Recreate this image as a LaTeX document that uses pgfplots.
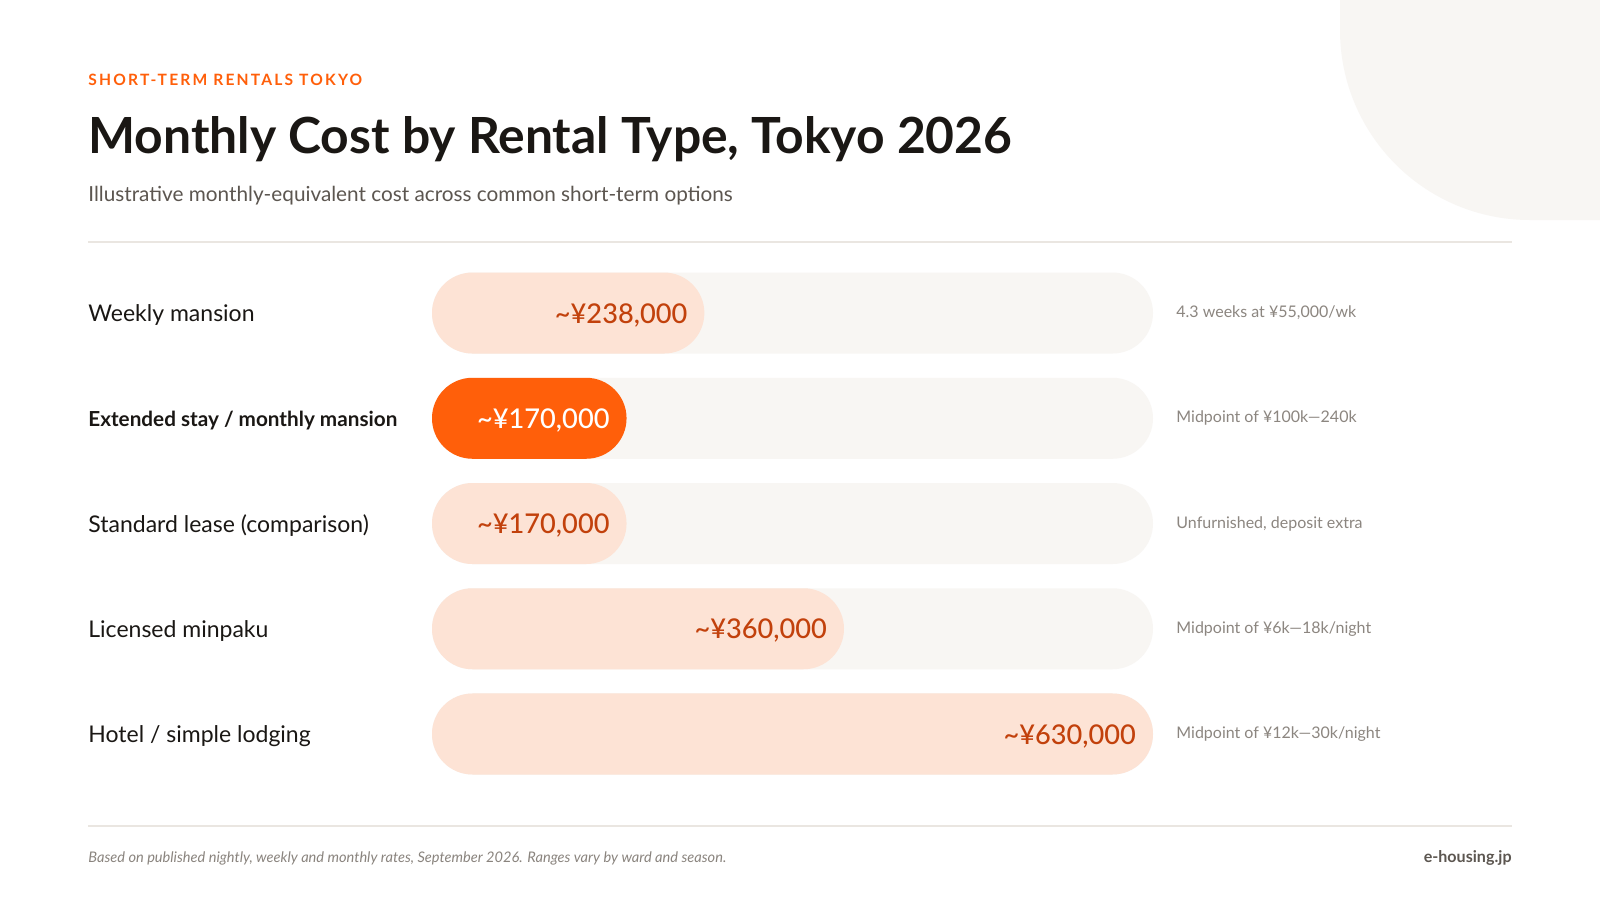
\documentclass[border=0pt]{standalone}
\usepackage{fontspec}
\setmainfont{Lato}
\newfontfamily\eyebrowfont[LetterSpace=14]{Lato}
\newfontfamily\medfont{Lato Medium}
\usepackage{pgfplots}
\pgfplotsset{compat=1.18}
\definecolor{accent}{HTML}{FF5F0A}
\definecolor{peach}{HTML}{FDE3D5}
\definecolor{track}{HTML}{F8F6F3}
\definecolor{valtext}{HTML}{C2410C}
\definecolor{titlecol}{HTML}{1A1714}
\definecolor{subcol}{HTML}{5C5650}
\definecolor{notecol}{HTML}{8C8680}
\definecolor{rulecol}{HTML}{EAE6E1}
\definecolor{footcol}{HTML}{8A847E}
\begin{document}
\begin{tikzpicture}[x=0.5pt,y=-0.5pt]
\useasboundingbox (0,0) rectangle (1600,900);
\fill[white] (0,0) rectangle (1600,900);
\begin{scope}
\clip (0,0) rectangle (1600,900);
\fill[track, rounded corners=95pt] (1340,-400) rectangle (1900,220);
\end{scope}
\node[anchor=base west, inner sep=0, text=accent, font=\eyebrowfont\bfseries\fontsize{7.8}{9}\selectfont] at (88,85.7) {SHORT-TERM RENTALS TOKYO};
\node[anchor=base west, inner sep=0, text=titlecol, font=\bfseries\fontsize{24.9}{30}\selectfont] at (88,153) {Monthly Cost by Rental Type, Tokyo 2026};
\node[anchor=base west, inner sep=0, text=subcol, font=\fontsize{10.37}{12}\selectfont] at (88,201) {Illustrative monthly-equivalent cost across common short-term options};
\draw[rulecol, line width=0.6pt] (88,242) -- (1512,242);
\draw[rulecol, line width=0.6pt] (88,826) -- (1512,826);
\node[anchor=base west, inner sep=0, text=footcol, font=\itshape\fontsize{7.3}{9}\selectfont] at (88,862) {Based on published nightly, weekly and monthly rates, September 2026. Ranges vary by ward and season.};
\node[anchor=base east, inner sep=0, text=subcol, font=\bfseries\fontsize{8.05}{10}\selectfont] at (1512,862) {e-housing.jp};
\begin{axis}[
  at={(216pt,-393.3pt)}, anchor=south west,
  width=360.5pt, height=263.1pt, scale only axis,
  xmin=0, xmax=630000, ymin=-0.5, ymax=4.5, y dir=reverse,
  xbar, bar width=40.5pt, bar shift=0pt,
  axis line style={draw=none}, tick style={draw=none}, major tick length=0pt,
  xtick=\empty, ytick={0,1,2,3,4},
  yticklabels={Weekly mansion,{\fontsize{10.35}{13}\selectfont\bfseries Extended stay / monthly mansion},Standard lease (comparison),Licensed minpaku,Hotel / simple lodging},
  yticklabel style={anchor=west, inner sep=0pt, xshift=-172pt, yshift=-1pt, text=titlecol, font=\fontsize{11.5}{13}\selectfont},
  clip=false,
]
\addplot[fill=track, draw=none, rounded corners=20.25pt, bar shift=0pt]
  coordinates {(630000,0) (630000,1) (630000,2) (630000,3) (630000,4)};
\addplot[fill=peach, draw=none, rounded corners=20.25pt, bar shift=0pt,
  point meta=x,
  nodes near coords={\textasciitilde¥\pgfmathprintnumber[fixed,precision=0,1000 sep={,},assume math mode=true]{\pgfplotspointmeta}},
  nodes near coords style={anchor=east, inner sep=0pt, xshift=-8.3pt, yshift=-1pt, text=valtext, font=\medfont\fontsize{13.6}{16}\selectfont}]
  coordinates {(238000,0) (170000,2) (360000,3) (630000,4)};
\addplot[fill=accent, draw=none, rounded corners=20.25pt, bar shift=0pt,
  point meta=x,
  nodes near coords={\textasciitilde¥\pgfmathprintnumber[fixed,precision=0,1000 sep={,},assume math mode=true]{\pgfplotspointmeta}},
  nodes near coords style={anchor=east, inner sep=0pt, xshift=-8.3pt, yshift=-1pt, text=white, font=\medfont\fontsize{13.6}{16}\selectfont}]
  coordinates {(170000,1)};
\node[anchor=west, inner sep=0, text=notecol, font=\fontsize{8}{10}\selectfont, xshift=11.5pt] at (axis cs:630000,0) {4.3 weeks at ¥55,000/wk};
\node[anchor=west, inner sep=0, text=notecol, font=\fontsize{8}{10}\selectfont, xshift=11.5pt] at (axis cs:630000,1) {Midpoint of ¥100k—240k};
\node[anchor=west, inner sep=0, text=notecol, font=\fontsize{8}{10}\selectfont, xshift=11.5pt] at (axis cs:630000,2) {Unfurnished, deposit extra};
\node[anchor=west, inner sep=0, text=notecol, font=\fontsize{8}{10}\selectfont, xshift=11.5pt] at (axis cs:630000,3) {Midpoint of ¥6k—18k/night};
\node[anchor=west, inner sep=0, text=notecol, font=\fontsize{8}{10}\selectfont, xshift=11.5pt] at (axis cs:630000,4) {Midpoint of ¥12k—30k/night};
\end{axis}
\end{tikzpicture}
\end{document}
